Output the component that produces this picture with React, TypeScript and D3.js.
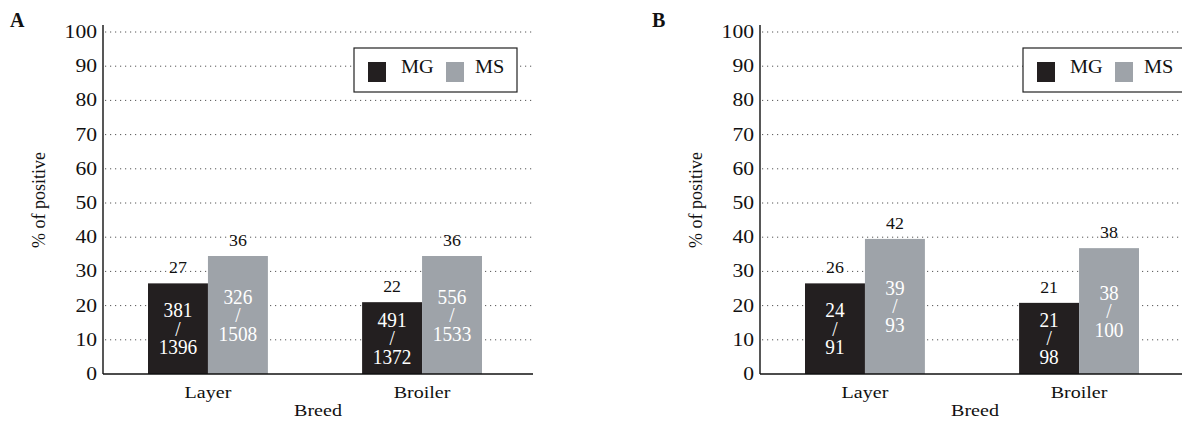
import React from 'react';
import * as d3 from 'd3';

const breeds = ['Layer', 'Broiler'];
const groups = ['MG', 'MS'];
const yTicks = [0, 10, 20, 30, 40, 50, 60, 70, 80, 90, 100];

// panel A
const pctA_MG = [27, 22];
const pctA_MS = [36, 36];
const barA_MG = [26.5, 21];
const barA_MS = [34.5, 34.5];
const posA_MG = [381, 491];
const totA_MG = [1396, 1372];
const posA_MS = [326, 556];
const totA_MS = [1508, 1533];

// panel B
const pctB_MG = [26, 21];
const pctB_MS = [42, 38];
const barB_MG = [26.5, 20.8];
const barB_MS = [39.5, 36.8];
const posB_MG = [24, 21];
const totB_MG = [91, 98];
const posB_MS = [39, 38];
const totB_MS = [93, 100];

const colors = { MG: '#231f20', MS: '#9ea3a9' };
const FONT = '"Liberation Serif", "Times New Roman", serif';

function T({ x, y, size, sx = 1, anchor = 'middle', fill = '#111', weight = 'normal', rotate = 0, children }: any) {
  return (
    <text
      transform={`translate(${x},${y}) rotate(${rotate}) scale(${sx},1)`}
      fontSize={size}
      fontFamily={FONT}
      textAnchor={anchor}
      fill={fill}
      fontWeight={weight}
    >
      {children}
    </text>
  );
}

function Panel({ ax, letter, letterX, legendX, pctMG, pctMS, barMG, barMS, posMG, totMG, posMS, totMS }: any) {
  const y = d3.scaleLinear().domain([0, 100]).range([374, 32]);
  const x = d3.scaleBand().domain(breeds).range([ax + 45, ax + 379]).paddingInner(0.44).paddingOuter(0);
  const xs = d3.scaleBand().domain(groups).range([0, x.bandwidth()]);
  const right = ax + 430;

  const rows = breeds.map((b, i) => [
    { b, g: 'MG', v: barMG[i], pct: pctMG[i], pos: posMG[i], tot: totMG[i] },
    { b, g: 'MS', v: barMS[i], pct: pctMS[i], pos: posMS[i], tot: totMS[i] },
  ]).flat();

  return (
    <g>
      <T x={letterX} y={27} size={20} weight="bold" anchor="start">{letter}</T>
      {yTicks.filter(t => t > 0).map(t => (
        <line key={t} x1={ax + 2} x2={right} y1={y(t)} y2={y(t)} stroke="#555" strokeWidth={1} strokeDasharray="1.2 3.8" />
      ))}
      {yTicks.map(t => (
        <T key={t} x={ax - 6} y={y(t) + 6} size={18} sx={1.2} anchor="end">{t}</T>
      ))}
      {rows.map(r => {
        const x0 = (x(r.b) as number) + (xs(r.g) as number);
        const top = y(r.v);
        const cx = x0 + xs.bandwidth() / 2;
        const mid = (top + y(0)) / 2;
        return (
          <g key={r.b + r.g}>
            <rect x={x0} y={top} width={xs.bandwidth()} height={y(0) - top} fill={colors[r.g as 'MG' | 'MS']} />
            <T x={cx} y={top - 10} size={17} sx={1.05}>{r.pct}</T>
            {[String(r.pos), '/', String(r.tot)].map((s, k) => (
              <T key={k} x={cx} y={mid + (k - 1) * 18.5 + 7} size={21} sx={0.92} fill="#fff">{s}</T>
            ))}
          </g>
        );
      })}
      <line x1={ax} x2={ax} y1={25} y2={y(0)} stroke="#111" strokeWidth={1.4} />
      <line x1={ax} x2={right} y1={y(0)} y2={y(0)} stroke="#111" strokeWidth={1.4} />
      {breeds.map(b => (
        <T key={b} x={(x(b) as number) + x.bandwidth() / 2} y={398} size={17} sx={1.18}>{b}</T>
      ))}
      <T x={ax + 215} y={416} size={17} sx={1.18}>Breed</T>
      <T x={ax - 58} y={200} size={18} rotate={-90}>% of positive</T>
      <g>
        <rect x={legendX} y={48} width={163} height={44} fill="#fff" stroke="#222" strokeWidth={1.2} />
        <rect x={legendX + 14} y={62} width={18} height={20} fill={colors.MG} />
        <T x={legendX + 47} y={73} size={18} sx={1.13} anchor="start">MG</T>
        <rect x={legendX + 92} y={62} width={18} height={20} fill={colors.MS} />
        <T x={legendX + 121} y={73} size={18} sx={1.13} anchor="start">MS</T>
      </g>
    </g>
  );
}

export default function App() {
  return (
    <svg width={1182} height={424} style={{ position: 'absolute', left: 0, top: 0, background: '#fff' }}>
      <rect width={1182} height={424} fill="#fff" />
      <Panel ax={103} letter="A" letterX={10} legendX={354}
        pctMG={pctA_MG} pctMS={pctA_MS} barMG={barA_MG} barMS={barA_MS}
        posMG={posA_MG} totMG={totA_MG} posMS={posA_MS} totMS={totA_MS} />
      <Panel ax={760} letter="B" letterX={652} legendX={1023}
        pctMG={pctB_MG} pctMS={pctB_MS} barMG={barB_MG} barMS={barB_MS}
        posMG={posB_MG} totMG={totB_MG} posMS={posB_MS} totMS={totB_MS} />
    </svg>
  );
}
